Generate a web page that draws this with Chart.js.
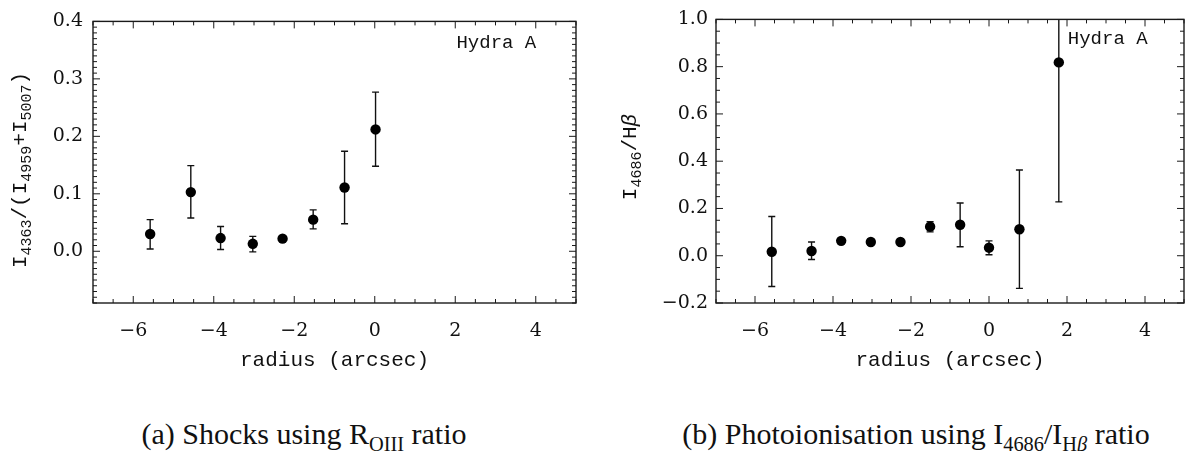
<!DOCTYPE html>
<html>
<head>
<meta charset="utf-8">
<script src="https://cdn.jsdelivr.net/npm/chart.js@4.4.1/dist/chart.umd.min.js"></script>
<style>
  html, body { margin: 0; padding: 0; background: #fff; width: 1185px; height: 451px; overflow: hidden; }
  canvas { position: absolute; top: 0; }
  #chartA { left: 0; }
  #chartB { left: 592px; }
  .cap { position: absolute; top: 417px; font-family: "Liberation Serif", serif; font-size: 30px; color: #111;
         white-space: nowrap; transform: translateX(-50%); line-height: 34px; }
  .sub { font-size: 0.68em; position: relative; top: 0.32em; }
</style>
</head>
<body>
<canvas id="chartA" width="592" height="380"></canvas>
<canvas id="chartB" width="593" height="380"></canvas>
<div class="cap" style="left:304px">(a) Shocks using R<span class="sub">OIII</span> ratio</div>
<div class="cap" style="left:916px">(b) Photoionisation using I<span class="sub">4686</span>/I<span class="sub">H<i>β</i></span> ratio</div>
<script>
// panel (a): [OIII] 4363 / (4959+5007)
const radiusA = [-5.58, -4.57, -3.83, -3.03, -2.29, -1.53, -0.75, 0.02];
const ratioA  = [0.030, 0.103, 0.023, 0.013, 0.022, 0.055, 0.111, 0.212];
const lowA    = [0.004, 0.058, 0.003, -0.001, 0.022, 0.039, 0.048, 0.148];
const highA   = [0.055, 0.149, 0.043, 0.026, 0.022, 0.072, 0.174, 0.277];

// panel (b): HeII 4686 / Hbeta
const radiusB = [-5.57, -4.55, -3.79, -3.03, -2.27, -1.51, -0.74, 0.00, 0.78, 1.79];
const ratioB  = [0.017, 0.020, 0.063, 0.058, 0.058, 0.123, 0.131, 0.034, 0.112, 0.818];
const lowB    = [-0.130, -0.016, 0.063, 0.058, 0.058, 0.101, 0.038, 0.004, -0.138, 0.228];
const highB   = [0.166, 0.058, 0.063, 0.058, 0.058, 0.144, 0.223, 0.063, 0.363, 1.410];

const xTicks  = [-6, -4, -2, 0, 2, 4];
const yTicksA = [0.0, 0.1, 0.2, 0.3, 0.4];
const yTicksB = [-0.2, 0.0, 0.2, 0.4, 0.6, 0.8, 1.0];

const TICK_FONT = "DejaVu Serif";
const MONO = "Liberation Mono";

function fmt(v, d) {
  const s = Math.abs(v).toFixed(d);
  return v < -1e-9 ? "\u2212" + s : s;
}

function steps(min, max, step) {
  const out = [];
  for (let v = Math.ceil(min / step - 1e-6) * step; v <= max + 1e-9; v += step) {
    out.push(Math.round(v * 1e6) / 1e6);
  }
  return out;
}

// inward ticks on all four sides plus the box
const frameTicks = {
  id: "frameTicks",
  afterDatasetsDraw(chart, args, o) {
    const { ctx, chartArea: a, scales: { x, y } } = chart;
    const isMajor = (list, v) => list.some(m => Math.abs(m - v) < 1e-6);
    ctx.save();
    ctx.strokeStyle = "#1a1a1a";
    ctx.lineWidth = 1;
    ctx.beginPath();
    steps(x.min, x.max, o.xMinor).forEach(v => {
      const px = x.getPixelForValue(v);
      const len = isMajor(o.xMajor, v) ? o.majorLen : o.minorLen;
      ctx.moveTo(px, a.bottom); ctx.lineTo(px, a.bottom - len);
      ctx.moveTo(px, a.top); ctx.lineTo(px, a.top + len);
    });
    steps(y.min, y.max, o.yMinor).forEach(v => {
      const py = y.getPixelForValue(v);
      const len = isMajor(o.yMajor, v) ? o.majorLen : o.minorLen;
      ctx.moveTo(a.left, py); ctx.lineTo(a.left + len, py);
      ctx.moveTo(a.right, py); ctx.lineTo(a.right - len, py);
    });
    ctx.stroke();
    ctx.lineWidth = 1.4;
    ctx.strokeRect(a.left, a.top, a.right - a.left, a.bottom - a.top);
    ctx.restore();
  }
};

const errorBars = {
  id: "errorBars",
  beforeDatasetsDraw(chart, args, o) {
    const { ctx, chartArea: a, scales: { x, y } } = chart;
    ctx.save();
    ctx.beginPath();
    ctx.rect(a.left, a.top, a.right - a.left, a.bottom - a.top);
    ctx.clip();
    ctx.strokeStyle = "#111";
    ctx.lineWidth = 1.4;
    o.xs.forEach((xv, i) => {
      if (o.hi[i] - o.lo[i] < 1e-6) return;
      const px = x.getPixelForValue(xv);
      const p1 = y.getPixelForValue(o.lo[i]);
      const p2 = y.getPixelForValue(o.hi[i]);
      ctx.beginPath();
      ctx.moveTo(px, p1); ctx.lineTo(px, p2);
      ctx.moveTo(px - o.cap, p1); ctx.lineTo(px + o.cap, p1);
      ctx.moveTo(px - o.cap, p2); ctx.lineTo(px + o.cap, p2);
      ctx.stroke();
    });
    ctx.restore();
  }
};

// y title with real subscripts, rotated
const yTitle = {
  id: "yTitle",
  afterDraw(chart, args, o) {
    const ctx = chart.ctx;
    ctx.save();
    ctx.translate(o.cx, o.cy);
    ctx.rotate(-Math.PI / 2);
    ctx.fillStyle = "#111";
    ctx.textBaseline = "alphabetic";
    const fontOf = p => (p.italic ? "italic " : "") + (p.sub ? o.subSize : o.size) + "px " + o.family;
    let total = 0;
    o.parts.forEach(p => { ctx.font = fontOf(p); total += ctx.measureText(p.t).width; });
    let cur = -total / 2;
    o.parts.forEach(p => {
      ctx.font = fontOf(p);
      ctx.fillText(p.t, cur, p.sub ? o.size * 0.35 + o.subDrop : o.size * 0.35);
      cur += ctx.measureText(p.t).width;
    });
    ctx.restore();
  }
};

const label = {
  id: "label",
  afterDraw(chart, args, o) {
    const { ctx, scales: { x, y } } = chart;
    ctx.save();
    ctx.fillStyle = "#111";
    ctx.font = o.size + "px " + MONO;
    ctx.textAlign = "left";
    ctx.textBaseline = "middle";
    ctx.fillText(o.text, x.getPixelForValue(o.x), y.getPixelForValue(o.y));
    ctx.restore();
  }
};

function makeChart(canvas, cfg) {
  return new Chart(canvas, {
    type: "scatter",
    data: {
      datasets: [{
        data: cfg.xs.map((v, i) => ({ x: v, y: cfg.ys[i] })),
        pointRadius: 5.2,
        pointBackgroundColor: "#000",
        pointBorderWidth: 0,
        showLine: false
      }]
    },
    options: {
      responsive: false,
      animation: false,
      layout: { autoPadding: false, padding: cfg.padding },
      plugins: {
        legend: { display: false },
        tooltip: { enabled: false },
        frameTicks: { xMajor: xTicks, xMinor: 0.5, yMajor: cfg.yTicks, yMinor: cfg.yMinor, majorLen: 7, minorLen: 4 },
        errorBars: { xs: cfg.xs, lo: cfg.lo, hi: cfg.hi, cap: 3.5 },
        yTitle: cfg.yTitle,
        label: cfg.label
      },
      scales: {
        x: {
          type: "linear", min: -7, max: 5,
          afterBuildTicks: s => { s.ticks = xTicks.map(v => ({ value: v })); },
          afterFit: s => { s.height = 77; },
          grid: { display: false, drawTicks: false },
          border: { display: false },
          ticks: { color: "#111", font: { family: TICK_FONT, size: 19 }, padding: 17, maxRotation: 0, autoSkip: false,
                   callback: v => fmt(v, 0) },
          title: { display: true, text: "radius (arcsec)", color: "#111", font: { family: MONO, size: 21 },
                   padding: { top: 0, bottom: 7 } }
        },
        y: {
          type: "linear", min: cfg.yMin, max: cfg.yMax,
          afterBuildTicks: s => { s.ticks = cfg.yTicks.map(v => ({ value: v })); },
          afterFit: s => { s.width = cfg.yWidth; },
          grid: { display: false, drawTicks: false },
          border: { display: false },
          ticks: { color: "#111", font: { family: TICK_FONT, size: 19 }, padding: cfg.yPad, autoSkip: false,
                   callback: v => fmt(v, 1) }
        }
      }
    },
    plugins: [errorBars, frameTicks, yTitle, label]
  });
}

makeChart(document.getElementById("chartA"), {
  xs: radiusA, ys: ratioA, lo: lowA, hi: highA,
  yMin: -0.09, yMax: 0.4, yTicks: yTicksA, yMinor: 0.01,
  yWidth: 93, yPad: 10,
  padding: { top: 9, right: 16, left: 0, bottom: 0 },
  yTitle: {
    cx: 19, cy: 170, size: 21, subSize: 15, subDrop: 5, family: MONO,
    parts: [{ t: "I" }, { t: "4363", sub: true }, { t: "/(I" }, { t: "4959", sub: true },
            { t: "+I" }, { t: "5007", sub: true }, { t: ")" }]
  },
  label: { text: "Hydra A", x: 2.03, y: 0.362, size: 19 }
});

makeChart(document.getElementById("chartB"), {
  xs: radiusB, ys: ratioB, lo: lowB, hi: highB,
  yMin: -0.2, yMax: 1.0, yTicks: yTicksB, yMinor: 0.05,
  yWidth: 124, yPad: 8,
  padding: { top: 8, right: 1, left: 0, bottom: 0 },
  yTitle: {
    cx: 37, cy: 157, size: 21, subSize: 15, subDrop: 5, family: MONO,
    parts: [{ t: "I" }, { t: "4686", sub: true }, { t: "/H" }, { t: "\u03b2", italic: true }]
  },
  label: { text: "Hydra A", x: 2.02, y: 0.919, size: 19 }
});
</script>
</body>
</html>
